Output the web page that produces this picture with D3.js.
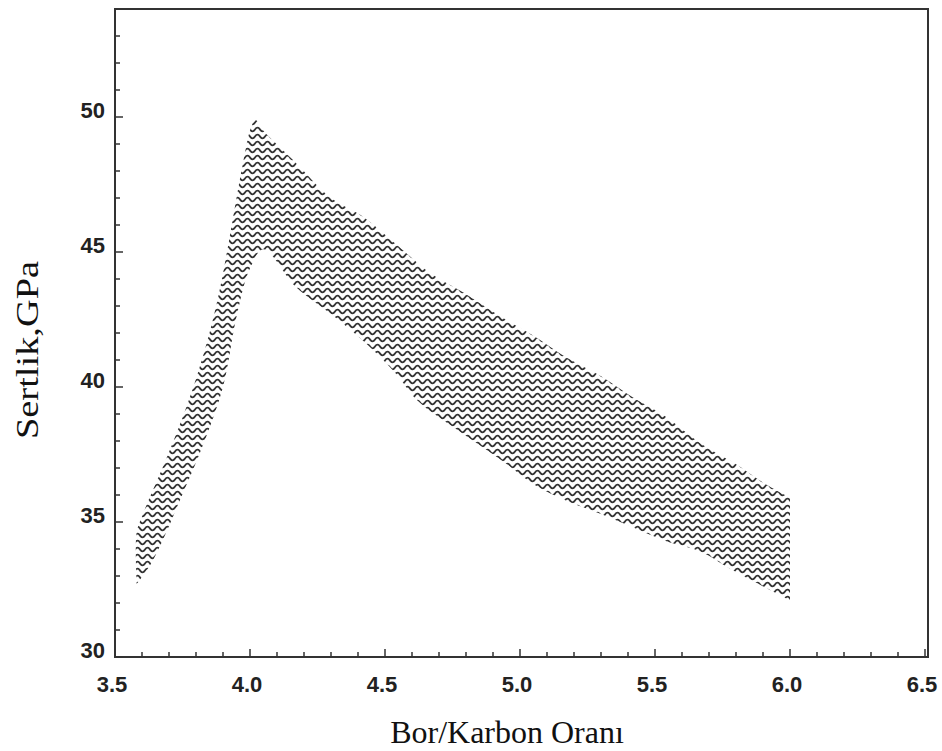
<!DOCTYPE html>
<html>
<head>
<meta charset="utf-8">
<script src="https://cdn.jsdelivr.net/npm/d3@7"></script>
<style>
  body { margin: 0; background: #fff; }
  .tick-label { font-family: "Liberation Sans", Arial, sans-serif; font-weight: bold; font-size: 22px; fill: #222; }
  .axis-title { font-family: "Liberation Serif", "Times New Roman", serif; font-size: 32px; fill: #111; }
</style>
</head>
<body>
<svg id="chart" width="942" height="751"></svg>
<script>
// Sertlik bandı: üst ve alt sınırlar (Bor/Karbon oranına karşı)
const ratioUpper = [3.58, 3.58, 3.60, 3.62, 3.68, 3.74, 3.80, 3.85, 3.89, 3.92, 3.95, 3.98, 4.00, 4.02, 4.04, 4.17, 4.30, 4.42, 4.54, 4.67, 4.79, 4.93, 5.05, 5.17, 5.30, 5.42, 5.54, 5.67, 5.79, 5.91, 6.00];
const hardUpper  = [32.9, 34.6, 35.2, 35.7, 37.1, 38.6, 40.3, 42.0, 43.7, 45.3, 47.0, 48.6, 49.5, 49.9, 49.6, 48.3, 47.0, 46.3, 45.3, 44.2, 43.5, 42.6, 41.9, 41.1, 40.4, 39.6, 38.9, 37.9, 37.2, 36.4, 35.9];
const ratioLower = [3.58, 3.63, 3.68, 3.74, 3.82, 3.90, 3.95, 4.00, 4.05, 4.17, 4.30, 4.42, 4.54, 4.62, 4.77, 4.93, 5.05, 5.17, 5.30, 5.42, 5.54, 5.67, 5.79, 6.00];
const hardLower  = [32.7, 33.4, 34.4, 35.8, 37.7, 40.0, 42.6, 44.4, 45.1, 43.7, 42.7, 41.7, 40.5, 39.5, 38.4, 37.3, 36.4, 35.8, 35.3, 34.8, 34.3, 33.9, 33.2, 32.1];

const xTickValues = [3.5, 4.0, 4.5, 5.0, 5.5, 6.0, 6.5];
const xTickLabels = ["3.5", "4.0", "4.5", "5.0", "5.5", "6.0", "6.5"];
const xMinorTicks = d3.range(35, 66).map(d => d / 10);
const yTickValues = [30, 35, 40, 45, 50];
const yTickLabels = ["30", "35", "40", "45", "50"];
const yMinorTicks = d3.range(30, 55);

const svg = d3.select("#chart");

const x = d3.scaleLinear().domain([3.5, 6.5]).range([115, 925]);
const y = d3.scaleLinear().domain([30, 54]).range([657, 9]);

// dalgalı tarama deseni
const defs = svg.append("defs");
const pat = defs.append("pattern")
  .attr("id", "wave")
  .attr("patternUnits", "userSpaceOnUse")
  .attr("width", 10)
  .attr("height", 7);
pat.append("path")
  .attr("d", "M-5,3.5 Q-2.5,-0.3 0,3.5 T5,3.5 T10,3.5 T15,3.5")
  .attr("fill", "none")
  .attr("stroke", "#333")
  .attr("stroke-width", 1.9);

const upperPts = ratioUpper.map((r, i) => [x(r), y(hardUpper[i])]);
const lowerPts = ratioLower.map((r, i) => [x(r), y(hardLower[i])]).reverse();

const smooth = d3.line().curve(d3.curveCatmullRom.alpha(0.5));
const bandPath = smooth(upperPts) + smooth(lowerPts).replace(/^M/, "L") + "Z";

svg.append("path")
  .attr("d", bandPath)
  .attr("fill", "url(#wave)")
  .attr("stroke", "none");

// çerçeve
svg.append("rect")
  .attr("x", x(3.5))
  .attr("y", y(54))
  .attr("width", 928 - x(3.5))
  .attr("height", y(30) - y(54))
  .attr("fill", "none")
  .attr("stroke", "#333")
  .attr("stroke-width", 2);

// x ekseni çentikleri (içe doğru)
svg.append("g")
  .selectAll("line")
  .data(xMinorTicks)
  .join("line")
  .attr("x1", d => x(d))
  .attr("x2", d => x(d))
  .attr("y1", y(30))
  .attr("y2", d => y(30) - (xTickValues.some(v => Math.abs(v - d) < 1e-6) ? 8 : 5))
  .attr("stroke", "#333")
  .attr("stroke-width", 1.5);

svg.append("g")
  .selectAll("text")
  .data(xTickValues)
  .join("text")
  .attr("class", "tick-label")
  .attr("x", d => x(d) - 3)
  .attr("y", 692)
  .attr("text-anchor", "middle")
  .text((d, i) => xTickLabels[i]);

// y ekseni çentikleri
svg.append("g")
  .selectAll("line")
  .data(yMinorTicks)
  .join("line")
  .attr("x1", x(3.5))
  .attr("x2", d => x(3.5) + (yTickValues.includes(d) ? 8 : 5))
  .attr("y1", d => y(d))
  .attr("y2", d => y(d))
  .attr("stroke", "#333")
  .attr("stroke-width", 1.5);

svg.append("g")
  .selectAll("text")
  .data(yTickValues)
  .join("text")
  .attr("class", "tick-label")
  .attr("x", 105)
  .attr("y", d => y(d) + 1)
  .attr("text-anchor", "end")
  .text((d, i) => yTickLabels[i]);

// eksen başlıkları
svg.append("text")
  .attr("class", "axis-title")
  .attr("x", 507)
  .attr("y", 743)
  .attr("text-anchor", "middle")
  .text("Bor/Karbon Oranı");

svg.append("text")
  .attr("class", "axis-title")
  .attr("transform", "translate(38,350) rotate(-90) scale(1.2,1)")
  .attr("text-anchor", "middle")
  .text("Sertlik,GPa");
</script>
</body>
</html>
